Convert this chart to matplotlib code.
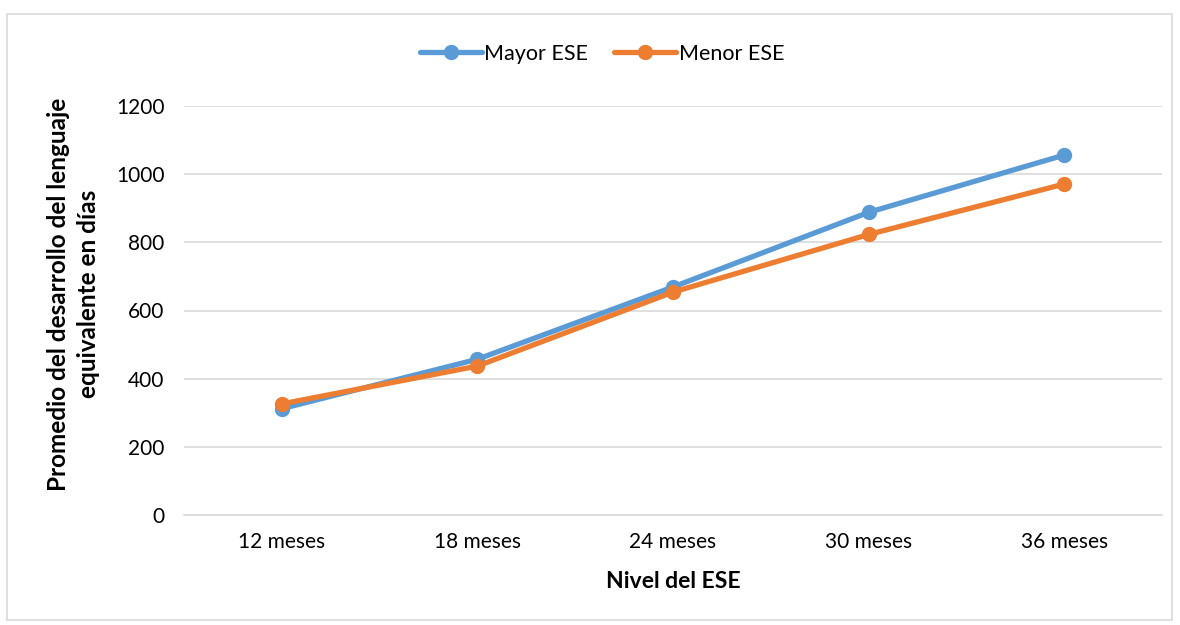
import matplotlib
matplotlib.use("Agg")
import matplotlib.pyplot as plt
from matplotlib.patches import Rectangle

categories = ["12 meses", "18 meses", "24 meses", "30 meses", "36 meses"]
mayor_ese = [312, 457, 669, 888, 1056]
menor_ese = [326, 437, 654, 823, 971]
yticks = [0, 200, 400, 600, 800, 1000, 1200]

plt.rcParams['font.family'] = ['Lato', 'DejaVu Sans']

fig = plt.figure(figsize=(11.8, 6.25), dpi=100)
fig.patches.append(Rectangle((7/1180, 1 - 620/625), 1165/1180, 606/625,
                             transform=fig.transFigure, fill=False,
                             edgecolor='#D9D9D9', linewidth=1.2))
ax = fig.add_axes([184/1180, 1 - 515/625, 978/1180, 409/625])

x = list(range(len(categories)))
ax.plot(x, mayor_ese, color='#5B9BD5', linewidth=3.8, marker='o', markersize=10,
        label='Mayor ESE', solid_capstyle='round', zorder=3)
ax.plot(x, menor_ese, color='#ED7D31', linewidth=3.8, marker='o', markersize=10,
        label='Menor ESE', solid_capstyle='round', zorder=4)

ax.set_xlim(-0.5, 4.5)
ax.set_ylim(0, 1200)
ax.set_yticks(yticks)
ax.set_yticklabels([str(v) for v in yticks])
ax.set_xticks(x)
ax.set_xticklabels(categories)
ax.grid(axis='y', color='#D9D9D9', linewidth=1.2)
ax.set_axisbelow(True)
for s in ['top', 'right', 'left']:
    ax.spines[s].set_visible(False)
ax.spines['bottom'].set_color('#D9D9D9')
ax.spines['bottom'].set_linewidth(1.2)
ax.tick_params(axis='both', length=0, labelsize=15, colors='#000000')
ax.tick_params(axis='y', pad=14)
ax.tick_params(axis='x', pad=12)

ax.set_xlabel('Nivel del ESE', fontsize=16.5, fontweight='bold', labelpad=14)
ax.set_ylabel('Promedio del desarrollo del lenguaje\nequivalente en días',
              fontsize=17.5, fontweight='bold', linespacing=1.35)
ax.yaxis.set_label_coords(-0.086, 0.54)

fig.legend(*ax.get_legend_handles_labels(), loc='center', bbox_to_anchor=(0.51, 1 - 54/625),
           ncol=2, frameon=False, fontsize=15.5, handlelength=2.9,
           columnspacing=1.2, handletextpad=0.1)

fig.savefig('out.png', dpi=100)
